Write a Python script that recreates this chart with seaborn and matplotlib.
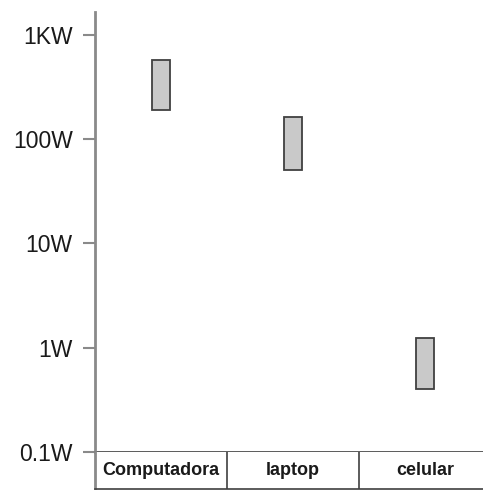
import numpy as np
import pandas as pd
import seaborn as sns
import matplotlib.pyplot as plt

# power range per device (watts)
devices = ['Computadora', 'laptop', 'celular']
watts_low = [190, 51, 0.4]
watts_high = [580, 165, 1.25]
tick_values = [0.1, 1, 10, 100, 1000]
tick_labels = ['0.1W', '1W', '10W', '100W', '1KW']

df = pd.DataFrame({'device': devices, 'low': watts_low, 'high': watts_high})
df['span'] = df['high'] - df['low']

sns.set_style('white')
plt.rcParams['font.family'] = ['Liberation Sans', 'DejaVu Sans']

fig = plt.figure(figsize=(4.83, 4.90), dpi=100)
W, H = 483, 490
ax = fig.add_axes([95 / W, (H - 452) / H, (W - 95) / W, (452 - 12) / H])
tab = fig.add_axes([95 / W, 1.5 / H, (W - 95) / W, (452 - 489) / -H])

axis_grey = '#8a8a8a'
pos = np.arange(len(df))

ax.bar(pos, df['span'], bottom=df['low'], width=0.13,
       color='#c9c9c9', edgecolor='#404040', linewidth=1.3)
ax.set_yscale('log')
ax.set_ylim(0.1, 1000 * 10 ** 0.22)
ax.set_xlim(-0.5, 2.44)
ax.set_yticks(tick_values)
ax.set_yticklabels(tick_labels)
ax.minorticks_off()
ax.set_xticks([])
ax.tick_params(axis='y', direction='out', length=9, width=1.5, color=axis_grey,
               labelsize=16.5, labelcolor='#1a1a1a', pad=7, left=True)
for side in ['top', 'right']:
    ax.spines[side].set_visible(False)
ax.spines['left'].set_color(axis_grey)
ax.spines['left'].set_linewidth(2)
ax.spines['bottom'].set_color('#404040')
ax.spines['bottom'].set_linewidth(1.2)

# category "table" under the plot
tab.set_xlim(ax.get_xlim())
tab.set_ylim(0, 1)
tab.set_xticks([])
tab.set_yticks([])
for side in ['top', 'right']:
    tab.spines[side].set_visible(False)
tab.spines['left'].set_color(axis_grey)
tab.spines['left'].set_linewidth(2)
tab.spines['bottom'].set_color('#404040')
tab.spines['bottom'].set_linewidth(1.2)
for b in pos[:-1] + 0.5:
    tab.axvline(b, color='#404040', linewidth=1.2)
for p, name in zip(pos, df['device']):
    tab.text(p, 0.5, name, ha='center', va='center', fontsize=13,
             fontweight='bold', color='#1a1a1a')

fig.savefig('out.png', dpi=100)
